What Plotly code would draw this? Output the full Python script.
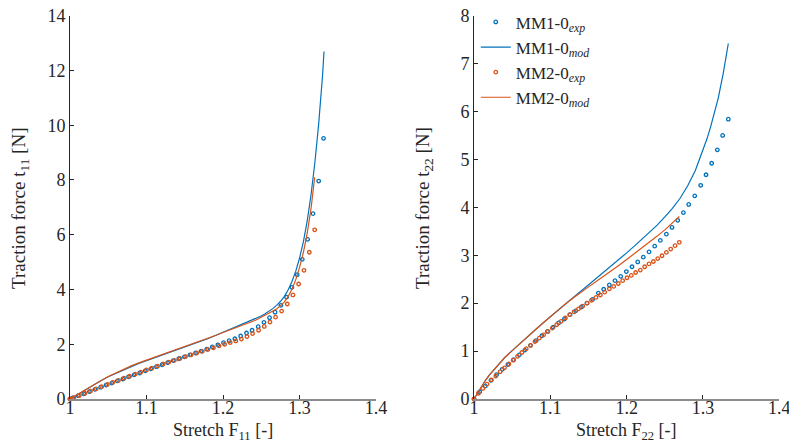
import plotly.graph_objects as go

BLUE = "#0072BD"
ORANGE = "#D95319"

# ---------- Left panel: t11 vs F11 ----------
l_mm1_exp_x = [1.0, 1.0035, 1.0108, 1.0181, 1.0254, 1.0327, 1.04, 1.0473, 1.0546, 1.0619,
               1.0692, 1.0765, 1.0838, 1.0911, 1.0984, 1.1057, 1.113, 1.1203, 1.1276, 1.1349,
               1.1422, 1.1495, 1.1568, 1.1641, 1.1714, 1.1787, 1.186, 1.1933, 1.2006, 1.208,
               1.2155, 1.223, 1.2307, 1.238, 1.246, 1.2535, 1.2608, 1.268, 1.2757, 1.283,
               1.29, 1.297, 1.3036, 1.3106, 1.3176, 1.325, 1.3314]
l_mm1_exp_y = [0.0, 0.04, 0.12, 0.19, 0.27, 0.35, 0.43, 0.51, 0.58, 0.66,
               0.73, 0.81, 0.88, 0.95, 1.03, 1.10, 1.18, 1.25, 1.33, 1.40,
               1.47, 1.54, 1.61, 1.68, 1.75, 1.82, 1.90, 1.98, 2.06, 2.13,
               2.20, 2.30, 2.41, 2.51, 2.64, 2.80, 2.97, 3.17, 3.42, 3.72,
               4.08, 4.54, 5.10, 5.83, 6.77, 7.96, 9.52]

l_mm2_exp_x = [1.0, 1.005, 1.0123, 1.0196, 1.0269, 1.0342, 1.0415, 1.0488, 1.0561, 1.0634,
               1.0707, 1.078, 1.0853, 1.0926, 1.0999, 1.1072, 1.1145, 1.1218, 1.1291, 1.1364,
               1.1437, 1.151, 1.1583, 1.1656, 1.1729, 1.1802, 1.1875, 1.1948, 1.2021, 1.2094,
               1.2167, 1.224, 1.2313, 1.2386, 1.2465, 1.2539, 1.2613, 1.2687, 1.2766, 1.284,
               1.2914, 1.2988, 1.3058, 1.3128, 1.3198]
l_mm2_exp_y = [0.0, 0.05, 0.13, 0.21, 0.29, 0.37, 0.45, 0.53, 0.61, 0.68,
               0.76, 0.83, 0.91, 0.98, 1.06, 1.13, 1.20, 1.28, 1.35, 1.41,
               1.48, 1.55, 1.61, 1.68, 1.74, 1.81, 1.87, 1.94, 2.00, 2.06,
               2.12, 2.19, 2.28, 2.39, 2.51, 2.65, 2.81, 2.99, 3.21, 3.47,
               3.80, 4.20, 4.70, 5.36, 6.18]

l_mm1_mod_x = [1.0, 1.005, 1.01, 1.015, 1.02, 1.03, 1.04, 1.05, 1.06, 1.07, 1.08, 1.09, 1.10,
               1.11, 1.12, 1.13, 1.14, 1.15, 1.16, 1.17, 1.18, 1.19, 1.20, 1.21, 1.22, 1.23,
               1.24, 1.245, 1.25, 1.255, 1.26, 1.265, 1.27, 1.275, 1.28, 1.285, 1.29, 1.295,
               1.30, 1.305, 1.31, 1.315, 1.32, 1.325, 1.33, 1.332]
l_mm1_mod_y = [0.0, 0.085, 0.17, 0.25, 0.33, 0.50, 0.66, 0.81, 0.94, 1.07, 1.19, 1.30, 1.40,
               1.50, 1.60, 1.70, 1.79, 1.88, 1.98, 2.09, 2.20, 2.32, 2.44, 2.55, 2.66, 2.77,
               2.89, 2.955, 3.03, 3.11, 3.20, 3.30, 3.42, 3.56, 3.74, 3.98, 4.28, 4.66,
               5.14, 5.74, 6.50, 7.45, 8.62, 10.04, 11.78, 12.69]

l_mm2_mod_x = [1.0, 1.005, 1.01, 1.015, 1.02, 1.03, 1.04, 1.05, 1.06, 1.07, 1.08, 1.09, 1.10,
               1.11, 1.12, 1.13, 1.14, 1.15, 1.16, 1.17, 1.18, 1.19, 1.20, 1.21, 1.22, 1.23,
               1.24, 1.245, 1.25, 1.255, 1.26, 1.265, 1.27, 1.275, 1.28, 1.285, 1.29, 1.295,
               1.30, 1.305, 1.31, 1.315, 1.3198]
l_mm2_mod_y = [0.0, 0.085, 0.17, 0.26, 0.34, 0.51, 0.67, 0.82, 0.96, 1.09, 1.21, 1.32, 1.42,
               1.52, 1.62, 1.72, 1.81, 1.90, 2.00, 2.10, 2.21, 2.32, 2.43, 2.53, 2.63, 2.74,
               2.85, 2.91, 2.98, 3.05, 3.12, 3.20, 3.29, 3.40, 3.54, 3.74, 4.00, 4.35,
               4.80, 5.35, 6.05, 6.95, 8.10]

# ---------- Right panel: t22 vs F22 ----------
r_mm1_exp_x = [1.0, 1.0074, 1.0148, 1.0222, 1.0296, 1.037, 1.0444, 1.0518, 1.0592, 1.0666,
               1.074, 1.0814, 1.0888, 1.0962, 1.1036, 1.111, 1.1184, 1.1258, 1.1332, 1.1406,
               1.148, 1.1554, 1.1629, 1.1699, 1.1773, 1.1847, 1.1922, 1.1996, 1.207, 1.2145,
               1.2218, 1.2293, 1.2367, 1.2441, 1.252, 1.2594, 1.2669, 1.2743, 1.2813, 1.2892,
               1.297, 1.304, 1.3114, 1.3188, 1.3258, 1.3332]
r_mm1_exp_y = [0.0, 0.15, 0.27, 0.39, 0.51, 0.62, 0.72, 0.82, 0.92, 1.02,
               1.12, 1.22, 1.32, 1.41, 1.50, 1.59, 1.67, 1.76, 1.84, 1.92,
               2.00, 2.08, 2.21, 2.29, 2.38, 2.47, 2.56, 2.66, 2.76, 2.86,
               2.96, 3.07, 3.19, 3.31, 3.44, 3.58, 3.73, 3.89, 4.06, 4.24,
               4.46, 4.68, 4.92, 5.20, 5.50, 5.84]

r_mm2_exp_x = [1.0, 1.0057, 1.0114, 1.0171, 1.0228, 1.0285, 1.0342, 1.0399, 1.0456, 1.0513,
               1.057, 1.0627, 1.0684, 1.0741, 1.0798, 1.0855, 1.0912, 1.0969, 1.1026, 1.1083,
               1.114, 1.1197, 1.1254, 1.1311, 1.1368, 1.1425, 1.1482, 1.1539, 1.1598, 1.1655,
               1.1712, 1.1773, 1.183, 1.1891, 1.1948, 1.2005, 1.2061, 1.2118, 1.2179, 1.2236,
               1.2293, 1.235, 1.2407, 1.2463, 1.252, 1.2577, 1.2634, 1.269]
r_mm2_exp_y = [0.0, 0.12, 0.22, 0.31, 0.40, 0.48, 0.57, 0.65, 0.73, 0.81,
               0.89, 0.97, 1.05, 1.12, 1.20, 1.27, 1.34, 1.41, 1.48, 1.55,
               1.62, 1.69, 1.76, 1.82, 1.88, 1.94, 2.00, 2.06, 2.12, 2.17,
               2.23, 2.30, 2.35, 2.41, 2.47, 2.53, 2.58, 2.64, 2.69, 2.76,
               2.82, 2.87, 2.93, 2.99, 3.06, 3.13, 3.20, 3.27]

r_mm1_mod_x = [1.0, 1.005, 1.01, 1.015, 1.02, 1.03, 1.04, 1.05, 1.06, 1.07, 1.08, 1.09, 1.10,
               1.11, 1.12, 1.13, 1.14, 1.15, 1.16, 1.17, 1.18, 1.19, 1.20, 1.21, 1.22, 1.23,
               1.24, 1.25, 1.26, 1.27, 1.28, 1.29, 1.30, 1.305, 1.31, 1.315, 1.32, 1.3266,
               1.3332]
r_mm1_mod_y = [0.0, 0.14, 0.27, 0.39, 0.50, 0.69, 0.86, 1.01, 1.16, 1.30, 1.44, 1.58, 1.72,
               1.85, 1.99, 2.12, 2.25, 2.38, 2.51, 2.64, 2.77, 2.91, 3.05, 3.19, 3.33, 3.48,
               3.63, 3.80, 3.98, 4.19, 4.45, 4.77, 5.18, 5.42, 5.68, 5.97, 6.28, 6.80,
               7.42]

r_mm2_mod_x = [1.0, 1.005, 1.01, 1.015, 1.02, 1.03, 1.04, 1.05, 1.06, 1.07, 1.08, 1.09, 1.10,
               1.11, 1.12, 1.13, 1.14, 1.15, 1.16, 1.17, 1.18, 1.19, 1.20, 1.21, 1.22, 1.23,
               1.24, 1.25, 1.26, 1.269]
r_mm2_mod_y = [0.0, 0.14, 0.27, 0.39, 0.50, 0.69, 0.86, 1.01, 1.16, 1.30, 1.44, 1.58, 1.72,
               1.85, 1.99, 2.11, 2.23, 2.34, 2.45, 2.56, 2.68, 2.79, 2.91, 3.03, 3.15, 3.27,
               3.40, 3.53, 3.67, 3.81]

x_ticks = [1.0, 1.1, 1.2, 1.3, 1.4]
x_ticktext = ["1", "1.1", "1.2", "1.3", "1.4"]
yl_ticks = [0, 2, 4, 6, 8, 10, 12, 14]
yr_ticks = [0, 1, 2, 3, 4, 5, 6, 7, 8]

names = ["MM1-0<sub><i>exp</i></sub>", "MM1-0<sub><i>mod</i></sub>",
         "MM2-0<sub><i>exp</i></sub>", "MM2-0<sub><i>mod</i></sub>"]
x_titles = ["Stretch F<sub>11</sub> [-]", "Stretch F<sub>22</sub> [-]"]
y_titles = ["Traction force t<sub>11</sub> [N]", "Traction force t<sub>22</sub> [N]"]

FONT = "Liberation Serif"
TXT = "#262626"

fig = go.Figure()

def add_exp(x, y, color, name, xa, ya, show):
    fig.add_trace(go.Scatter(x=x, y=y, mode="markers", name=name, xaxis=xa, yaxis=ya,
                             showlegend=show, cliponaxis=False,
                             marker=dict(symbol="circle-open", size=3.5, color=color,
                                         line=dict(width=1.3, color=color))))

def add_mod(x, y, color, name, xa, ya, show):
    fig.add_trace(go.Scatter(x=x, y=y, mode="lines", name=name, xaxis=xa, yaxis=ya,
                             showlegend=show, cliponaxis=False,
                             line=dict(color=color, width=1.2)))

# left
add_exp(l_mm1_exp_x, l_mm1_exp_y, BLUE, names[0], "x", "y", False)
add_mod(l_mm1_mod_x, l_mm1_mod_y, BLUE, names[1], "x", "y", False)
add_exp(l_mm2_exp_x, l_mm2_exp_y, ORANGE, names[2], "x", "y", False)
add_mod(l_mm2_mod_x, l_mm2_mod_y, ORANGE, names[3], "x", "y", False)
# right
add_exp(r_mm1_exp_x, r_mm1_exp_y, BLUE, names[0], "x2", "y2", True)
add_mod(r_mm1_mod_x, r_mm1_mod_y, BLUE, names[1], "x2", "y2", True)
add_exp(r_mm2_exp_x, r_mm2_exp_y, ORANGE, names[2], "x2", "y2", True)
add_mod(r_mm2_mod_x, r_mm2_mod_y, ORANGE, names[3], "x2", "y2", True)

TICKFONT = dict(family=FONT, size=18, color=TXT)
TITLEFONT = dict(family=FONT, size=18, color=TXT)

xcommon = dict(range=[1.0, 1.4], tickvals=x_ticks, ticktext=x_ticktext, ticks="inside",
               ticklen=4, tickcolor=TXT, tickwidth=1, showgrid=False, zeroline=False,
               showline=True, linecolor="#8c8c8c", linewidth=2, automargin=False,
               ticklabeloverflow="allow", ticklabelstandoff=-9, tickfont=TICKFONT)
ycommon = dict(ticks="inside", ticklen=4, tickcolor=TXT, tickwidth=1, showgrid=False,
               zeroline=False, showline=True, linecolor=TXT, linewidth=1, automargin=False,
               ticklabeloverflow="allow", tickfont=TICKFONT)

XD1 = [0.0887, 0.4766]
XD2 = [0.6008, 0.9877]
YD = [0.0973, 0.9645]

fig.update_layout(
    width=789, height=442,
    margin=dict(l=0, r=0, t=0, b=0, autoexpand=False),
    paper_bgcolor="white", plot_bgcolor="white",
    font=dict(family=FONT, size=18, color=TXT),
    xaxis=dict(domain=XD1, anchor="y", **xcommon),
    yaxis=dict(domain=YD, anchor="x", range=[0, 14], tickvals=yl_ticks, **ycommon),
    xaxis2=dict(domain=XD2, anchor="y2", **xcommon),
    yaxis2=dict(domain=YD, anchor="x2", range=[0, 8], tickvals=yr_ticks, **ycommon),
    legend=dict(x=0.603, y=0.99, xanchor="left", yanchor="top",
                bgcolor="rgba(0,0,0,0)", borderwidth=0, tracegroupgap=0,
                itemwidth=30, font=dict(family=FONT, size=17, color=TXT)),
    showlegend=True,
)

# axis titles
for xd, t in zip([XD1, XD2], x_titles):
    fig.add_annotation(text=t, xref="paper", yref="paper", x=(xd[0] + xd[1]) / 2,
                       y=11 / 442, xanchor="center", yanchor="middle", showarrow=False,
                       font=TITLEFONT)
for xd, t in zip([XD1, XD2], y_titles):
    fig.add_annotation(text=t, xref="paper", yref="paper", x=xd[0] - 50 / 789,
                       y=(442 - 208) / 442, xanchor="center", yanchor="middle",
                       showarrow=False, textangle=-90, font=dict(family=FONT, size=19, color=TXT))

fig.write_html("out.html")
